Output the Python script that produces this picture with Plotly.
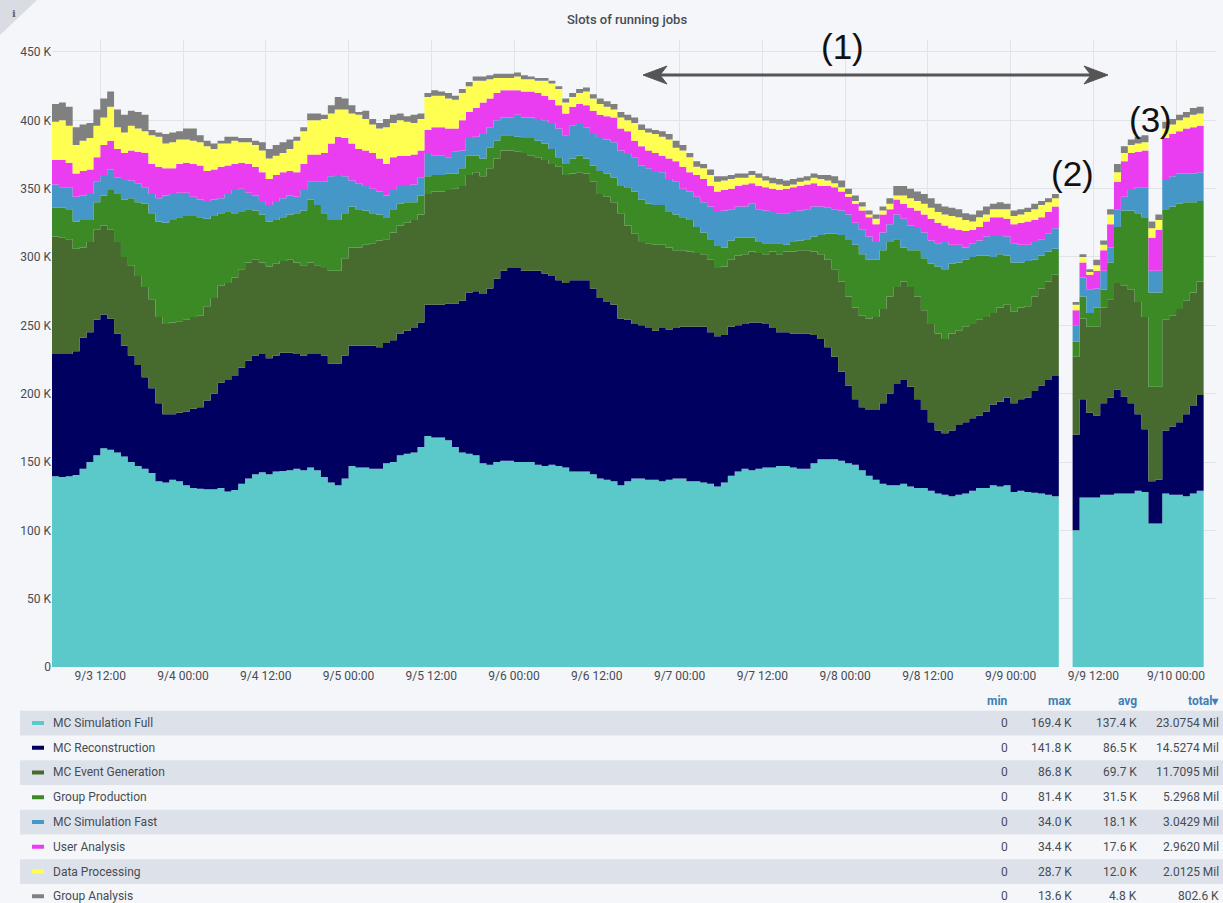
import plotly.graph_objects as go
import pandas as pd

# ---------------- data (stack tops, in thousands of slots) ----------------
series_names = ["MC Simulation Full", "MC Reconstruction", "MC Event Generation", "Group Production",
                "MC Simulation Fast", "User Analysis", "Data Processing", "Group Analysis"]
series_colors = ["#5bc8c9", "#000060", "#476a2f", "#3b8a26", "#4597c8", "#ea3cf0", "#ffff52", "#808080"]

start_time = "2019-09-03 05:00"
n_bins = 167

top_mc_sim_full = [
    139.5, 139, 139.5, 140.5, 145, 150, 155, 160, 159, 157,
    154, 150, 147, 145, 142, 136, 135, 137, 136, 133,
    131, 130.5, 130, 130, 131, 128.5, 129.5, 134, 138, 141,
    142.5, 141, 143, 143.5,
    144, 145, 144, 146, 144, 139, 135, 133, 138, 147,
    146, 146, 145, 145, 149, 150, 155, 156, 157, 161,
    169, 168, 168, 166, 161, 157, 156, 155, 149, 148,
    150, 151, 151, 150,
    150, 150, 148, 147, 148, 147, 146, 143, 143, 143,
    141, 138, 137, 136, 133, 136, 138, 138, 137, 137,
    136, 137, 138, 138, 136, 136, 135, 134, 132, 135,
    140, 143, 145, 144,
    145, 146, 146, 147, 147, 146, 145, 145, 149, 152,
    152, 152, 151, 149, 148, 144, 140, 137, 134, 133,
    133, 134, 132, 131, 131, 129, 127, 126, 125, 126,
    127, 129, 131,
    131, 133, 132, 133, 128, 129, 128, 127.5, 127, 126,
    125, 0, 0, 100, 124, 124, 124, 126, 126, 127,
    127, 127, 129, 128, 105, 105, 127, 126, 126, 125,
    127, 129,
]
top_mc_reconstruction = [
    229, 229, 229, 231, 241, 245, 254, 258, 255, 244,
    235, 228, 221, 212, 204, 193, 185, 185, 186, 187,
    189, 190, 195, 200, 208, 210, 213, 219, 224, 228,
    229, 226, 228, 230,
    230, 229, 228, 229, 229, 228, 222, 222, 228, 235,
    235, 235, 235, 234, 237, 239, 244, 246, 248, 252,
    265, 265, 265, 266, 266, 268, 274, 275, 273, 277,
    284, 290, 292, 292,
    290, 290, 290, 288, 286, 283, 281, 283, 283, 283,
    277, 270, 267, 265, 255, 254, 251, 250, 248, 246,
    248, 247, 248, 249, 249, 249, 249, 245, 242, 243,
    249, 250, 251, 252,
    252, 251, 248, 245, 245, 244, 244, 244, 243, 240,
    234, 227, 216, 206, 196, 190, 188, 188, 193, 200,
    207, 210, 205, 196, 188, 179, 173, 171, 173, 177,
    179, 182, 184,
    187, 192, 194, 197, 193, 196, 197, 202, 206, 210,
    213, 0, 0, 170, 196, 186, 184, 193, 197, 203,
    198, 193, 185, 174, 136, 137, 173, 176, 179, 185,
    191, 199,
]
top_mc_event_generation = [
    315, 314, 313, 306, 307, 311, 320, 323, 320, 311,
    300, 294, 286, 278, 269, 256, 251, 252, 253, 254,
    256, 257, 264, 270, 279, 281, 285, 291, 296, 298,
    296, 293, 295, 297,
    298, 296, 294, 296, 294, 292, 290, 290, 299, 307,
    307, 309, 310, 312, 313, 318, 323, 325, 327, 331,
    346, 348, 348, 349, 350, 352, 360, 362, 359, 365,
    372, 378, 378, 377,
    376, 374, 373, 371, 368, 366, 360, 361, 362, 361,
    355, 346, 344, 340, 332, 323, 317, 311, 310, 309,
    309, 307, 305, 305, 304, 303, 302, 298, 292, 293,
    298, 301, 302, 304,
    303, 302, 304, 302, 304, 304, 305, 305, 304, 302,
    298, 291, 282, 271, 263, 257, 255, 256, 262, 271,
    278, 282, 278, 271, 261, 251, 244, 240, 244, 246,
    249, 251, 254,
    256, 259, 263, 265, 260, 263, 264, 271, 277, 282,
    287, 0, 0, 227, 255, 249, 249, 263, 269, 281,
    279, 276, 267, 256, 205, 205, 254, 257, 262, 268,
    274, 282,
]
top_group_production = [
    336, 336, 335, 326, 327, 327, 340, 345, 349, 346,
    342, 343, 340, 339, 332, 326, 325, 327, 329, 330,
    330, 329, 328, 330, 332, 333, 332, 333, 335, 334,
    331, 326, 327, 329,
    331, 332, 334, 342, 338, 332, 327, 327, 332, 337,
    335, 334, 332, 331, 329, 335, 339, 340, 340, 345,
    359, 360, 360, 361, 361, 365, 374, 374, 372, 380,
    385, 389, 389, 388,
    387, 387, 385, 383, 379, 373, 368, 372, 374, 372,
    367, 363, 361, 358, 352, 351, 348, 342, 339, 338,
    338, 333, 331, 329, 327, 322, 318, 313, 308, 307,
    312, 314, 314, 314,
    311, 310, 310, 310, 309, 311, 312, 313, 315, 316,
    317, 317, 316, 313, 309, 302, 298, 298, 305, 311,
    313, 307, 305, 305, 299, 295, 293, 291, 295, 296,
    298, 300, 301,
    301, 300, 302, 301, 296, 296, 297, 298, 301, 304,
    306, 0, 0, 238, 271, 259, 263, 276, 296, 322,
    334, 334, 332, 329, 274, 274, 335, 337, 339, 340,
    340, 341,
]
top_mc_sim_fast = [
    353, 351, 351, 344, 345, 346, 355, 360, 364, 358,
    357, 356, 354, 351, 346, 343, 345, 346, 347, 347,
    344, 342, 341, 342, 343, 346, 349, 350, 347, 345,
    341, 338, 341, 343,
    345, 344, 349, 355, 355, 355, 359, 360, 359, 356,
    354, 352, 350, 348, 345, 349, 352, 352, 353, 358,
    376, 374, 374, 373, 377, 378, 387, 388, 390, 395,
    400, 402, 402, 404,
    402, 402, 401, 400, 398, 394, 389, 396, 398, 395,
    390, 387, 386, 384, 378, 376, 373, 367, 365, 363,
    362, 357, 355, 350, 348, 344, 340, 337, 333, 334,
    335, 337, 337, 339,
    335, 334, 333, 332, 332, 333, 334, 335, 337, 337,
    336, 335, 334, 331, 325, 320, 315, 311, 318, 324,
    331, 328, 323, 322, 318, 312, 310, 311, 309, 309,
    307, 310, 312,
    315, 316, 316, 315, 310, 309, 309, 311, 313, 317,
    321, 0, 0, 250, 285, 276, 277, 290, 307, 335,
    344, 349, 351, 351, 290, 290, 357, 359, 361, 361,
    361, 362,
]
top_user_analysis = [
    371, 371, 369, 361, 363, 364, 373, 382, 385, 379,
    376, 378, 377, 376, 368, 366, 365, 365, 368, 369,
    368, 367, 363, 364, 366, 367, 368, 369, 368, 366,
    362, 357, 360, 362,
    363, 362, 368, 375, 375, 376, 383, 388, 387, 383,
    379, 378, 376, 372, 368, 373, 374, 374, 375, 378,
    393, 395, 395, 394, 394, 400, 406, 409, 413, 416,
    420, 422, 422, 422,
    421, 421, 420, 418, 415, 411, 405, 410, 412, 411,
    407, 404, 403, 402, 394, 392, 385, 381, 378, 376,
    374, 372, 370, 366, 362, 360, 357, 352, 348, 349,
    350, 352, 353, 354,
    352, 351, 350, 349, 350, 351, 352, 353, 354, 352,
    352, 351, 348, 344, 339, 334, 329, 324, 331, 335,
    342, 339, 336, 334, 331, 328, 325, 323, 321, 320,
    319, 320, 322,
    326, 329, 329, 328, 324, 325, 326, 327, 329, 333,
    337, 0, 0, 261, 296, 287, 290, 305, 324, 355,
    370, 376, 377, 378, 314, 320, 387, 390, 392, 394,
    395, 396,
]
top_data_processing = [
    399, 400, 396, 382, 385, 387, 396, 402, 410, 395,
    391, 396, 394, 392, 389, 388, 383, 384, 386, 386,
    385, 384, 381, 379, 383, 383, 385, 384, 384, 382,
    378, 372, 374, 376,
    379, 385, 392, 400, 400, 401, 405, 408, 408, 405,
    404, 401, 397, 394, 395, 398, 400, 399, 398, 401,
    417, 418, 418, 416, 415, 420, 425, 429, 429, 430,
    431, 431, 431, 432,
    430, 430, 429, 429, 427, 423, 413, 417, 420, 421,
    416, 412, 410, 408, 402, 400, 398, 393, 391, 390,
    388, 386, 380, 378, 373, 366, 365, 360, 355, 356,
    357, 358, 358, 360,
    358, 356, 354, 353, 352, 353, 355, 356, 358, 357,
    356, 354, 351, 346, 341, 337, 331, 328, 334, 339,
    345, 345, 343, 341, 339, 336, 333, 331, 330, 329,
    327, 326, 329,
    331, 335, 335, 335, 330, 331, 333, 335, 338, 340,
    343, 0, 0, 265, 300, 289, 294, 309, 331, 362,
    376, 382, 383, 384, 321, 327, 394, 397, 400, 402,
    404, 405,
]
top_group_analysis = [
    412, 413, 410, 395, 397, 398, 408, 416, 421, 408,
    404, 407, 406, 404, 393, 391, 390, 391, 392, 394,
    394, 389, 385, 383, 385, 388, 388, 387, 387, 385,
    384, 379, 382, 384,
    386, 388, 395, 405, 405, 404, 411, 417, 416, 411,
    406, 407, 401, 398, 401, 404, 405, 403, 404, 405,
    420, 422, 421, 420, 418, 423, 428, 432, 432, 433,
    434, 434, 434, 435,
    433, 432, 431, 431, 429, 425, 416, 420, 423, 424,
    419, 416, 414, 412, 406, 404, 402, 397, 394, 393,
    392, 390, 385, 382, 376, 370, 368, 364, 359, 359,
    360, 361, 361, 363,
    361, 359, 358, 357, 356, 357, 358, 359, 361, 360,
    360, 359, 356, 350, 345, 340, 334, 331, 337, 343,
    352, 352, 350, 348, 346, 343, 339, 337, 336, 335,
    332, 331, 334,
    337, 339, 340, 339, 334, 335, 336, 339, 341, 343,
    346, 0, 0, 267, 302, 291, 298, 312, 335, 368,
    381, 386, 388, 389, 326, 331, 399, 401, 404, 406,
    409, 410,
]
stack_tops = [top_mc_sim_full, top_mc_reconstruction, top_mc_event_generation, top_group_production,
              top_mc_sim_fast, top_user_analysis, top_data_processing, top_group_analysis]

y_tick_vals = [0, 50, 100, 150, 200, 250, 300, 350, 400, 450]
y_tick_text = ["0", "50 K", "100 K", "150 K", "200 K", "250 K", "300 K", "350 K", "400 K", "450 K"]

stat_headers = ["min", "max", "avg", "total\u25be"]
stat_min = ["0", "0", "0", "0", "0", "0", "0", "0"]
stat_max = ["169.4 K", "141.8 K", "86.8 K", "81.4 K", "34.0 K", "34.4 K", "28.7 K", "13.6 K"]
stat_avg = ["137.4 K", "86.5 K", "69.7 K", "31.5 K", "18.1 K", "17.6 K", "12.0 K", "4.8 K"]
stat_total = ["23.0754 Mil", "14.5274 Mil", "11.7095 Mil", "5.2968 Mil", "3.0429 Mil", "2.9620 Mil",
              "2.0125 Mil", "802.6 K"]

# ---------------- layout geometry ----------------
W, H = 1223, 903
ML, MR, MT, MB = 52, 7, 40, 236
PW, PH = W - ML - MR, H - MT - MB
PX_PER_K = 1.3667
PX_PER_HOUR = 6.896

def px(x):
    return (x - ML) / PW

def py(y):
    return (H - MB - y) / PH

times = pd.date_range(start_time, periods=n_bins + 1, freq="h")
x_end = times[0] + pd.Timedelta(hours=PW / PX_PER_HOUR)

BG = "#f5f6f9"
TXT = "#464c54"
FONT = "Roboto, Inter, 'Noto Sans', sans-serif"

fig = go.Figure()
for i, (name, color, top) in enumerate(zip(series_names, series_colors, stack_tops)):
    fig.add_trace(go.Scatter(
        x=times, y=list(top) + [top[-1]], name=name, mode="lines",
        line=dict(shape="hv", width=0, color=color),
        fill="tozeroy" if i == 0 else "tonexty", fillcolor=color,
        showlegend=False, hoverinfo="skip",
    ))

shapes, annotations = [], []

def label(text, x, y, size=12, color=TXT, xanchor="center", family=FONT, weight=None):
    f = dict(family=family, size=size, color=color)
    if weight:
        f["weight"] = weight
    annotations.append(dict(text=text, x=px(x), y=py(y), xref="paper", yref="paper", showarrow=False,
                            xanchor=xanchor, yanchor="middle", font=f))

# info corner
shapes.append(dict(type="path", xref="paper", yref="paper",
                   path=f"M {px(0)} {py(0)} L {px(37)} {py(0)} L {px(0)} {py(35)} Z",
                   fillcolor="#d9dde3", line=dict(width=0), layer="above"))
label("<b>i</b>", 14, 13, size=10, color="#60656d", family="DejaVu Serif")

# title
label("Slots of running jobs", 627, 20, size=13, weight=500)

# legend table
row_y0, row_dy = 723.0, 24.75
for k, (name, color) in enumerate(zip(series_names, series_colors)):
    yc = row_y0 + k * row_dy
    if k % 2 == 0:
        shapes.append(dict(type="rect", xref="paper", yref="paper", x0=px(20), x1=px(1230),
                           y0=py(yc - row_dy / 2), y1=py(yc + row_dy / 2),
                           fillcolor="#dde2ea", line=dict(width=0), layer="below"))
    shapes.append(dict(type="rect", xref="paper", yref="paper", x0=px(32), x1=px(44),
                       y0=py(yc - 2), y1=py(yc + 2), fillcolor=color, line=dict(width=0), layer="above"))
    label(name, 51, yc, xanchor="left")
    for col_x, vals in zip([1010, 1074, 1139, 1221], [stat_min, stat_max, stat_avg, stat_total]):
        label(vals[k], col_x, yc, xanchor="right")
for col_x, head in zip([1010, 1074, 1139, 1221], stat_headers):
    label(f"<b>{head}</b>", col_x, 701.0, color="#3f7fb5", xanchor="right")

# callouts
for text, cx, cy in [("(1)", 842, 47), ("(2)", 1072, 173), ("(3)", 1150, 119)]:
    label(text, cx, cy, size=35, color="#111111", family="Liberation Sans, Arial")
ARROW = "#555555"
shapes.append(dict(type="line", xref="paper", yref="paper", x0=px(655), x1=px(1096), y0=py(75), y1=py(75),
                   line=dict(color=ARROW, width=3), layer="above"))
for tip, sgn in [(643, 1), (1108, -1)]:
    shapes.append(dict(type="path", xref="paper", yref="paper",
                       path=(f"M {px(tip)} {py(75)} L {px(tip + sgn * 24)} {py(66)} "
                             f"L {px(tip + sgn * 17)} {py(75)} L {px(tip + sgn * 24)} {py(84)} Z"),
                       fillcolor=ARROW, line=dict(color=ARROW, width=1), layer="above"))

fig.update_layout(
    width=W, height=H, margin=dict(l=ML, r=MR, t=MT, b=MB),
    paper_bgcolor=BG, plot_bgcolor=BG,
    font=dict(family=FONT, size=12, color=TXT),
    shapes=shapes, annotations=annotations, showlegend=False,
    xaxis=dict(type="date", range=[times[0], x_end], tickformat="%-m/%-d %H:%M",
               tick0="2019-09-03 12:00", dtick=12 * 3600 * 1000, showgrid=True, gridcolor="#e0e3e8",
               gridwidth=1, zeroline=False, showline=False, ticks="", tickfont=dict(size=12, color=TXT)),
    yaxis=dict(range=[0, PH / PX_PER_K], tickvals=y_tick_vals, ticktext=y_tick_text, showgrid=True,
               gridcolor="#e0e3e8", gridwidth=1, zeroline=False, showline=False, ticks="",
               tickfont=dict(size=12, color=TXT)),
)

fig.write_html("out.html", config={"displayModeBar": False},
               post_script="document.body.style.margin='0';document.body.style.background='#f5f6f9';")
